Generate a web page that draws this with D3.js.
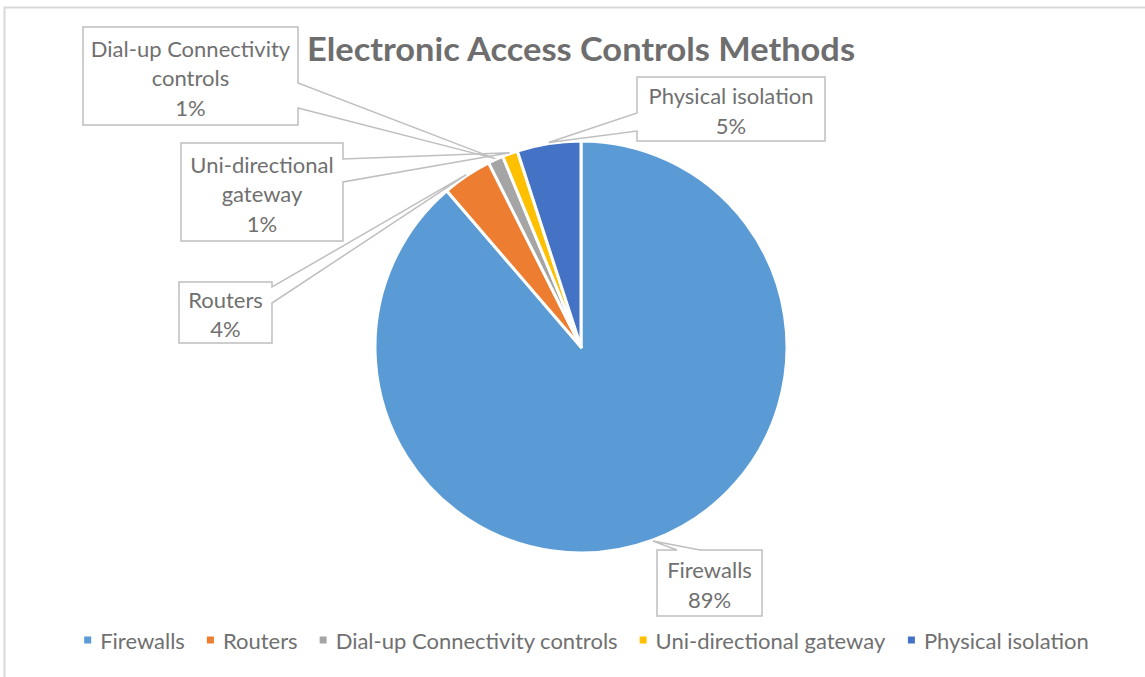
<!DOCTYPE html>
<html>
<head>
<meta charset="utf-8">
<script src="https://cdn.jsdelivr.net/npm/d3@7"></script>
<style>
  body { margin: 0; background: #fff; }
  text { font-family: Lato, "Open Sans", sans-serif; }
</style>
</head>
<body>
<div id="chart"></div>
<script>
(function () {
  // data
  const categories = ["Firewalls", "Routers", "Dial-up Connectivity controls", "Uni-directional gateway", "Physical isolation"];
  const shares = [88.7, 3.9, 1.2, 1.2, 5.0];
  const colors = ["#5B9BD5", "#ED7D31", "#A5A5A5", "#FFC000", "#4472C4"];
  const labelLines = [["Firewalls"], ["Routers"], ["Dial-up Connectivity", "controls"], ["Uni-directional", "gateway"], ["Physical isolation"]];

  // where the callout boxes sit (layout only)
  const callouts = [
    { x: 657, y: 550, w: 105, h: 66, side: "top", a: 677, b: 700 },
    { x: 179, y: 282, w: 93, h: 61, side: "right", a: 287, b: 303 },
    { x: 83, y: 27, w: 215, h: 98, side: "right", a: 83, b: 108 },
    { x: 181, y: 143, w: 162, h: 98, side: "right", a: 159, b: 182 },
    { x: 637, y: 77, w: 188, h: 64, side: "left", a: 113, b: 131 }
  ];

  const width = 1145, height = 677;
  const cx = 581, cy = 347, radius = 206;
  const textColor = "#707070";

  const data = categories.map((c, i) => ({ name: c, value: shares[i], color: colors[i], lines: labelLines[i], box: callouts[i] }));
  const total = d3.sum(shares);

  const svg = d3.select("#chart").append("svg")
    .attr("width", width)
    .attr("height", height);

  // chart frame (cropped at right and bottom)
  svg.append("rect")
    .attr("x", 4.5).attr("y", 7.5)
    .attr("width", width + 20).attr("height", height + 20)
    .attr("fill", "none")
    .attr("stroke", "#d9d9d9")
    .attr("stroke-width", 2);

  svg.append("text")
    .attr("x", cx)
    .attr("y", 61)
    .attr("text-anchor", "middle")
    .attr("textLength", 548)
    .attr("lengthAdjust", "spacingAndGlyphs")
    .style("font-size", "32px")
    .style("font-weight", "bold")
    .style("fill", "#6e6e6e")
    .text("Electronic Access Controls Methods");

  const pie = d3.pie().sort(null).value(d => d.value);
  const arcs = pie(data);
  const arc = d3.arc().innerRadius(0).outerRadius(radius);
  const tipArc = d3.arc().innerRadius(radius + 1).outerRadius(radius + 1);

  const g = svg.append("g").attr("transform", `translate(${cx},${cy})`);
  g.selectAll("path")
    .data(arcs)
    .enter().append("path")
    .attr("d", arc)
    .attr("fill", d => d.data.color)
    .attr("stroke", "#fff")
    .attr("stroke-width", 3)
    .attr("stroke-linejoin", "round");

  // callout boxes with pointers
  const calloutPath = (b, tip) => {
    const [tx, ty] = tip;
    const r = b.x + b.w, bt = b.y + b.h;
    if (b.side === "right") {
      return `M${b.x},${b.y}H${r}V${b.a}L${tx},${ty}L${r},${b.b}V${bt}H${b.x}Z`;
    }
    if (b.side === "left") {
      return `M${b.x},${b.y}H${r}V${bt}H${b.x}V${b.b}L${tx},${ty}L${b.x},${b.a}Z`;
    }
    return `M${b.x},${b.y}H${b.a}L${tx},${ty}L${b.b},${b.y}H${r}V${bt}H${b.x}Z`;
  };

  const labels = svg.append("g");
  arcs.forEach(d => {
    const b = d.data.box;
    const c = tipArc.centroid(d);
    const tip = [cx + c[0], cy + c[1]];
    labels.append("path")
      .attr("d", calloutPath(b, tip))
      .attr("fill", "none")
      .attr("stroke", "#bfbfbf")
      .attr("stroke-width", 1.5);

    const lines = d.data.lines.concat([Math.round(d.data.value / total * 100) + "%"]);
    const lh = 29.5;
    const mid = b.y + b.h / 2 + 1.5;
    lines.forEach((t, i) => {
      labels.append("text")
        .attr("x", b.x + b.w / 2)
        .attr("y", mid + (i - (lines.length - 1) / 2) * lh)
        .attr("text-anchor", "middle")
        .attr("dominant-baseline", "central")
        .style("font-size", "22px")
        .style("fill", textColor)
        .text(t);
    });
  });

  // legend
  const legend = svg.append("g");
  const items = legend.selectAll("g")
    .data(data)
    .enter().append("g");
  items.append("rect")
    .attr("width", 7).attr("height", 7)
    .attr("y", -3.5)
    .attr("fill", d => d.color);
  items.append("text")
    .attr("x", 16)
    .attr("dominant-baseline", "central")
    .style("font-size", "22px")
    .style("fill", textColor)
    .text(d => d.name);

  let offset = 0;
  items.each(function () {
    const w = this.getBBox().width;
    this.__x = offset;
    offset += w + 22;
  });
  const legendWidth = offset - 22;
  const startX = 586.5 - legendWidth / 2;
  items.attr("transform", function () { return `translate(${startX + this.__x},640)`; });
})();
</script>
</body>
</html>
